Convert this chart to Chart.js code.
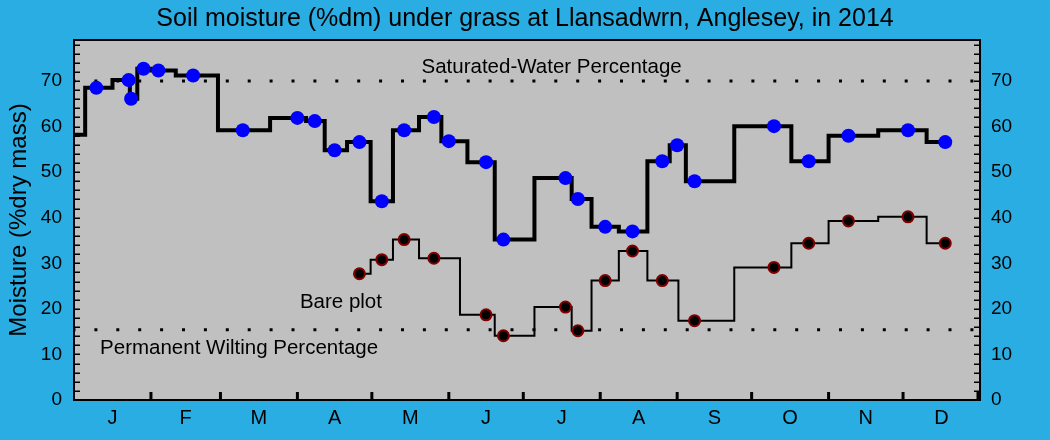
<!DOCTYPE html>
<html>
<head>
<meta charset="utf-8">
<script src="https://cdn.jsdelivr.net/npm/chart.js@4.4.0/dist/chart.umd.min.js"></script>
<style>
html,body{margin:0;padding:0;background:#29ADE2;}
canvas{display:block;}
</style>
</head>
<body>
<canvas id="c" width="1050" height="440"></canvas>
<script>
// ---- data (day of year 2014; index 0 = level carried in from Dec 2013) ----
const sampleDays    = [0, 9, 22, 23, 28, 34, 48, 68, 90, 97, 105, 115, 124, 133, 145, 151, 166, 173, 198, 203, 214, 225, 237, 243, 250, 282, 296, 312, 336, 351];
const grassMoisture = [58.2, 68.5, 70.2, 66.1, 72.7, 72.3, 71.2, 59.2, 61.9, 61.2, 54.8, 56.6, 43.6, 59.2, 62.1, 56.8, 52.2, 35.2, 48.7, 44.1, 38.0, 37.0, 52.4, 55.9, 48.0, 60.1, 52.4, 58.0, 59.2, 56.6];
const bareMoisture  = [null, null, null, null, null, null, null, null, null, null, null, 27.7, 30.8, 35.2, 31.1, null, 18.7, 14.1, 20.4, 15.2, 26.2, 32.7, 26.2, null, 17.4, 29.1, 34.4, 39.3, 40.2, 34.4];
const saturatedWaterPct = 70;
const permanentWiltingPct = 15.4;
const monthLabels = ['J','F','M','A','M','J','J','A','S','O','N','D'];
const monthStartDays = [0, 31, 59, 90, 120, 151, 181, 212, 243, 273, 304, 334, 365];
const yMajorTicks = [0, 10, 20, 30, 40, 50, 60, 70];
const yMinorStep = 2;
const yMax = 79;

const FONT = "'Liberation Sans', Arial, Helvetica, sans-serif";
Chart.defaults.font.family = FONT;
Chart.defaults.color = '#000';

const monthMidDays = monthLabels.map((_, i) => (monthStartDays[i] + monthStartDays[i + 1]) / 2);

const annotations = [
  { text: 'Saturated-Water Percentage', day: 140, value: 71.7 },
  { text: 'Permanent Wilting Percentage', day: 10.5, value: 10.0 },
  { text: 'Bare plot', day: 91, value: 20.2 }
];

const framePlugin = {
  id: 'frame',
  beforeDraw(chart) {
    const { ctx, chartArea: a } = chart;
    ctx.save();
    ctx.fillStyle = '#29ADE2';
    ctx.fillRect(0, 0, chart.width, chart.height);
    ctx.fillStyle = '#C0C0C0';
    ctx.fillRect(a.left, a.top, a.right - a.left, a.bottom - a.top);
    ctx.restore();
  },
  beforeDatasetsDraw(chart) {
    const { ctx, chartArea: a, scales } = chart;
    ctx.save();
    ctx.strokeStyle = '#000';
    // y minor ticks, inside, both sides
    ctx.lineWidth = 1.5;
    for (let v = yMinorStep; v < yMax; v += yMinorStep) {
      const y = Math.round(scales.y.getPixelForValue(v)) + 0.25;
      ctx.beginPath();
      ctx.moveTo(a.left, y); ctx.lineTo(a.left + 6, y);
      ctx.moveTo(a.right - 6, y); ctx.lineTo(a.right, y);
      ctx.stroke();
    }
    // month boundary ticks, inside
    ctx.lineWidth = 3;
    for (let i = 1; i < monthStartDays.length; i++) {
      const x = scales.x.getPixelForValue(monthStartDays[i]) - (i === monthStartDays.length - 1 ? 2 : 0);
      ctx.beginPath();
      ctx.moveTo(x, a.bottom); ctx.lineTo(x, a.bottom - 8);
      ctx.stroke();
    }
    // top border
    ctx.lineWidth = 2;
    ctx.beginPath();
    ctx.moveTo(a.left, a.top); ctx.lineTo(a.right, a.top);
    ctx.stroke();
    ctx.restore();
  },
  afterDatasetsDraw(chart) {
    const { ctx, scales } = chart;
    ctx.save();
    ctx.fillStyle = '#000';
    ctx.font = '20.5px ' + FONT;
    ctx.textAlign = 'left';
    ctx.textBaseline = 'alphabetic';
    annotations.forEach(t => {
      ctx.fillText(t.text, scales.x.getPixelForValue(t.day), scales.y.getPixelForValue(t.value));
    });
    ctx.restore();
  }
};

const pts = vals => sampleDays.map((d, i) => ({ x: d, y: vals[i] }));
const flat = v => [{ x: monthStartDays[0], y: v }, { x: monthStartDays[monthStartDays.length - 1], y: v }];

const yTickFont = { size: 19, family: FONT };

new Chart(document.getElementById('c'), {
  type: 'line',
  data: {
    datasets: [
      {
        label: 'Grass',
        data: pts(grassMoisture),
        stepped: 'middle',
        borderColor: '#000',
        borderWidth: 4,
        borderJoinStyle: 'miter',
        borderCapStyle: 'butt',
        pointRadius: c => (c.dataIndex === 0 ? 0 : 7),
        pointBackgroundColor: '#0000FF',
        pointBorderWidth: 0,
        order: 1
      },
      {
        label: 'Bare plot',
        data: pts(bareMoisture),
        spanGaps: true,
        stepped: 'middle',
        borderColor: '#000',
        borderWidth: 2,
        borderJoinStyle: 'miter',
        pointRadius: 5.5,
        pointBorderWidth: 2,
        pointBorderColor: '#800000',
        pointBackgroundColor: '#000',
        order: 2
      },
      {
        label: 'Saturated-Water Percentage',
        data: flat(saturatedWaterPct),
        borderColor: '#000',
        borderWidth: 3,
        borderDash: [3, 18.9],
        borderDashOffset: 1.5,
        pointRadius: 0,
        order: 3
      },
      {
        label: 'Permanent Wilting Percentage',
        data: flat(permanentWiltingPct),
        borderColor: '#000',
        borderWidth: 3,
        borderDash: [3, 18.9],
        borderDashOffset: 1.5,
        pointRadius: 0,
        order: 3
      }
    ]
  },
  options: {
    responsive: false,
    animation: false,
    devicePixelRatio: 1,
    layout: { padding: 0 },
    plugins: {
      legend: { display: false },
      tooltip: { enabled: false },
      title: {
        display: true,
        text: 'Soil moisture (%dm) under grass at Llansadwrn, Anglesey, in 2014',
        color: '#000',
        font: { size: 25, weight: 'normal', family: FONT, lineHeight: 1.2 },
        padding: { top: 4, bottom: 6 }
      }
    },
    scales: {
      x: {
        type: 'linear',
        min: monthStartDays[0],
        max: monthStartDays[monthStartDays.length - 1],
        afterFit: s => { s.height = 40; },
        afterBuildTicks: s => { s.ticks = monthMidDays.map(v => ({ value: v })); },
        ticks: {
          callback: (v, i) => monthLabels[i],
          font: { size: 20, family: FONT },
          color: '#000',
          padding: 6,
          autoSkip: false,
          maxRotation: 0
        },
        grid: { display: false, drawTicks: false },
        border: { display: true, color: '#000', width: 2 }
      },
      y: {
        position: 'left',
        min: 0,
        max: yMax,
        afterFit: s => { s.width = 74; },
        afterBuildTicks: s => { s.ticks = yMajorTicks.map(v => ({ value: v })); },
        ticks: { font: yTickFont, color: '#000', padding: 12 },
        grid: { display: false, drawTicks: false },
        border: { display: true, color: '#000', width: 2 },
        title: {
          display: true,
          text: 'Moisture (%dry mass)',
          color: '#000',
          font: { size: 24, family: FONT },
          padding: { top: 5, bottom: 0 }
        }
      },
      y2: {
        position: 'right',
        min: 0,
        max: yMax,
        afterFit: s => { s.width = 70; },
        afterBuildTicks: s => { s.ticks = yMajorTicks.map(v => ({ value: v })); },
        ticks: { font: yTickFont, color: '#000', padding: 11 },
        grid: { display: false, drawTicks: false },
        border: { display: true, color: '#000', width: 2 }
      }
    }
  },
  plugins: [framePlugin]
});
</script>
</body>
</html>
